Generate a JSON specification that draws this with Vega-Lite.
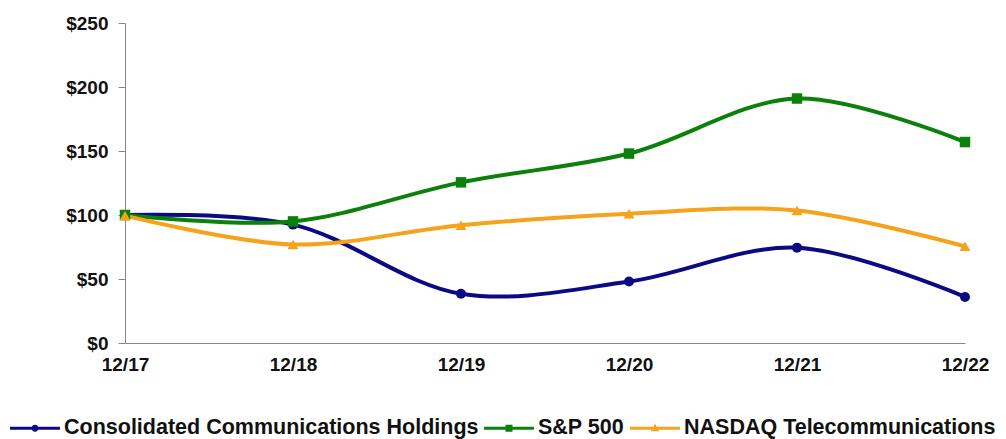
{
  "$schema": "https://vega.github.io/schema/vega-lite/v6.json",
  "width": 840,
  "height": 320,
  "autosize": {"type": "none"},
  "padding": {"left": 125, "top": 23, "right": 41, "bottom": 96},
  "background": "white",
  "data": {
    "values": [
      {"period": "12/17", "series": "Consolidated Communications Holdings", "value": 100},
      {"period": "12/18", "series": "Consolidated Communications Holdings", "value": 92.5},
      {"period": "12/19", "series": "Consolidated Communications Holdings", "value": 38.5},
      {"period": "12/20", "series": "Consolidated Communications Holdings", "value": 48},
      {"period": "12/21", "series": "Consolidated Communications Holdings", "value": 74.5},
      {"period": "12/22", "series": "Consolidated Communications Holdings", "value": 36},
      {"period": "12/17", "series": "S&P 500", "value": 100},
      {"period": "12/18", "series": "S&P 500", "value": 95},
      {"period": "12/19", "series": "S&P 500", "value": 125.5},
      {"period": "12/20", "series": "S&P 500", "value": 148},
      {"period": "12/21", "series": "S&P 500", "value": 191},
      {"period": "12/22", "series": "S&P 500", "value": 157},
      {"period": "12/17", "series": "NASDAQ Telecommunications", "value": 99.5},
      {"period": "12/18", "series": "NASDAQ Telecommunications", "value": 77},
      {"period": "12/19", "series": "NASDAQ Telecommunications", "value": 92},
      {"period": "12/20", "series": "NASDAQ Telecommunications", "value": 101},
      {"period": "12/21", "series": "NASDAQ Telecommunications", "value": 103.5},
      {"period": "12/22", "series": "NASDAQ Telecommunications", "value": 75.5}
    ]
  },
  "encoding": {
    "x": {
      "field": "period", "type": "ordinal", "sort": null,
      "scale": {"type": "point", "padding": 0},
      "axis": {
        "title": null, "labelAngle": 0, "domainColor": "#888888", "tickColor": "#888888",
        "tickSize": 0, "labelPadding": 12, "labelFont": "Liberation Sans", "labelFontWeight": "bold",
        "labelFontSize": 19, "labelColor": "#111111", "grid": false
      }
    },
    "y": {
      "field": "value", "type": "quantitative",
      "scale": {"domain": [0, 250], "nice": false, "zero": true},
      "axis": {
        "title": null, "values": [0, 50, 100, 150, 200, 250], "labelExpr": "'$' + datum.value",
        "domainColor": "#888888", "tickColor": "#888888", "tickSize": 7, "labelPadding": 10,
        "labelFont": "Liberation Sans", "labelFontWeight": "bold", "labelFontSize": 19,
        "labelColor": "#111111", "grid": false
      }
    },
    "color": {
      "field": "series", "type": "nominal",
      "scale": {
        "domain": ["Consolidated Communications Holdings", "S&P 500", "NASDAQ Telecommunications"],
        "range": ["#0a0a85", "#0b800b", "#f7a21b"]
      },
      "legend": {
        "title": null, "orient": "none", "direction": "horizontal",
        "legendX": -115, "legendY": 380,
        "symbolSize": 2500, "symbolStrokeWidth": 0, "symbolOpacity": 1,
        "labelFont": "Liberation Sans", "labelFontWeight": "bold", "labelFontSize": 21.5,
        "labelColor": "#111111", "labelLimit": 600, "labelOffset": 4, "columnPadding": 5
      }
    }
  },
  "layer": [
    {
      "mark": {"type": "line", "interpolate": "catmull-rom", "strokeWidth": 4}
    },
    {
      "transform": [{"filter": "datum.series === 'Consolidated Communications Holdings'"}],
      "mark": {"type": "point", "shape": "circle", "filled": true, "opacity": 1, "size": 100}
    },
    {
      "transform": [{"filter": "datum.series === 'S&P 500'"}],
      "mark": {"type": "point", "shape": "square", "filled": true, "opacity": 1, "size": 110}
    },
    {
      "transform": [{"filter": "datum.series === 'NASDAQ Telecommunications'"}],
      "mark": {"type": "point", "shape": "triangle-up", "filled": true, "opacity": 1, "size": 120}
    },
    {
      "transform": [{"filter": "false"}],
      "mark": {"type": "point", "filled": true, "opacity": 1},
      "encoding": {
        "shape": {
          "field": "series", "type": "nominal",
          "scale": {
            "domain": ["Consolidated Communications Holdings", "S&P 500", "NASDAQ Telecommunications"],
            "range": [
              "M-1,-0.06H1V0.06H-1Z M0.14,0A0.14,0.14 0 1,1 -0.14,0A0.14,0.14 0 1,1 0.14,0Z",
              "M-1,-0.06H1V0.06H-1Z M-0.14,-0.14H0.14V0.14H-0.14Z",
              "M-1,-0.06H1V0.06H-1Z M0,-0.18L0.17,0.12H-0.17Z"
            ]
          },
          "legend": {
            "title": null, "orient": "none", "direction": "horizontal",
            "legendX": -115, "legendY": 380,
            "symbolSize": 2500, "symbolStrokeWidth": 0, "symbolOpacity": 1,
            "labelFont": "Liberation Sans", "labelFontWeight": "bold", "labelFontSize": 21.5,
            "labelColor": "#111111", "labelLimit": 600, "labelOffset": 4, "columnPadding": 5
          }
        }
      }
    }
  ],
  "config": {"view": {"stroke": null}}
}
